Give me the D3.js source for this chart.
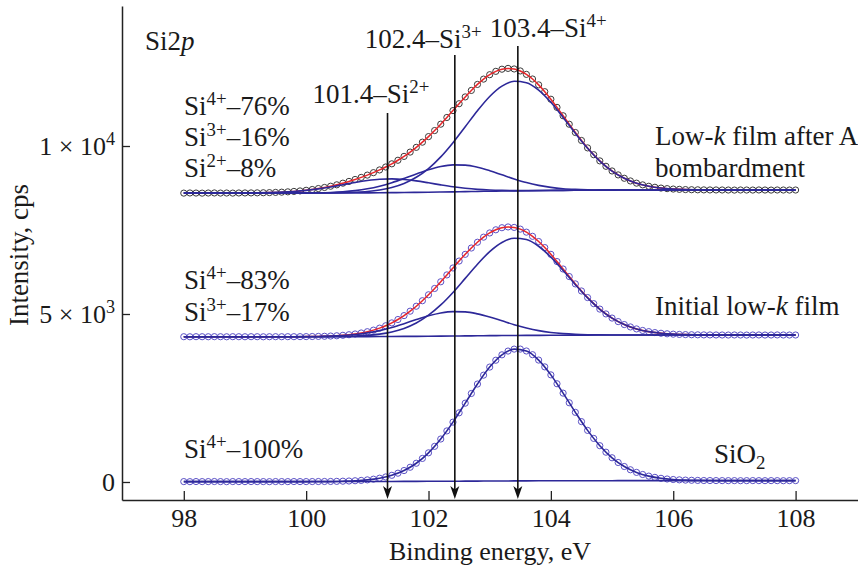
<!DOCTYPE html>
<html>
<head>
<meta charset="utf-8">
<script src="https://cdn.jsdelivr.net/npm/d3@7"></script>
<style>
  body { margin: 0; background: #fff; }
  text { font-family: "Liberation Serif", "Times New Roman", serif; fill: #1a1a1a; }
</style>
</head>
<body>
<svg id="chart" width="858" height="569"></svg>
<script>
// measured points every 0.1 eV, fitted curves every 0.2 eV
var energy = d3.range(980, 1081).map(function (d) { return d / 10; });
var fitEnergy = d3.range(490, 541).map(function (d) { return d / 5; });

// Low-k film after Ar bombardment
var arIntensity = [
  8598, 8602, 8600, 8597, 8601, 8603, 8599, 8601, 8598, 8602,
  8603, 8604, 8606, 8609, 8613, 8619, 8626, 8636, 8648, 8663,
  8682, 8705, 8734, 8766, 8803, 8845, 8894, 8946, 9004, 9066,
  9134, 9207, 9288, 9375, 9470, 9576, 9691, 9819, 9960, 10114,
  10280, 10460, 10650, 10849, 11054, 11259, 11461, 11654, 11833, 11991,
  12122, 12222, 12286, 12310, 12293, 12234, 12132, 11994, 11820, 11617,
  11392, 11150, 10900, 10648, 10402, 10165, 9944, 9741, 9557, 9396,
  9257, 9140, 9040, 8960, 8894, 8843, 8802, 8772, 8748, 8731,
  8719, 8710, 8703, 8699, 8696, 8694, 8692, 8692, 8691, 8690,
  8688, 8691, 8690, 8689, 8692, 8690, 8688, 8691, 8690, 8689, 8690
];
var arSi4 = [
  8600, 8600, 8600, 8600, 8600, 8600, 8600, 8600, 8600, 8600, 8600,
  8602, 8604, 8611, 8624, 8647, 8691, 8765, 8885, 9069, 9330,
  9677, 10100, 10573, 11051, 11475, 11783, 11928, 11885, 11664, 11300,
  10850, 10376, 9932, 9552, 9255, 9040, 8894, 8802, 8748, 8719,
  8703, 8696, 8692, 8691,
  8690, 8690, 8690, 8690, 8690, 8690
];
var arSi3 = [
  8600, 8600, 8600, 8600, 8600, 8600, 8600, 8600,
  8601, 8601, 8604, 8608, 8618, 8638, 8672, 8726, 8805, 8909,
  9034, 9169, 9294, 9391, 9439, 9431, 9369, 9266, 9143, 9020,
  8911, 8828, 8768, 8730, 8709, 8697, 8691, 8690, 8690,
  8690, 8690, 8690, 8690, 8690, 8690, 8690, 8690, 8690, 8690, 8690, 8690, 8690, 8690
];
var arSi2 = [
  8600, 8600, 8600, 8600,
  8601, 8603, 8606, 8613, 8626, 8647, 8679, 8724, 8781, 8848,
  8916, 8973, 9011, 9021, 9002, 8961, 8904, 8843, 8787, 8742,
  8709, 8689, 8678, 8673, 8672, 8675, 8678, 8680, 8683, 8685,
  8686, 8688, 8689,
  8690, 8690, 8690, 8690, 8690, 8690, 8690, 8690, 8690, 8690, 8690, 8690, 8690, 8690
];
var arBackground = [
  8600, 8600, 8600, 8600, 8600, 8600, 8600, 8600, 8600, 8600, 8600, 8600, 8600,
  8602, 8604, 8606, 8609, 8612, 8615, 8620, 8624, 8630, 8636,
  8642, 8648, 8654, 8659, 8664, 8668, 8673, 8677, 8680, 8683,
  8685, 8686, 8688, 8689,
  8690, 8690, 8690, 8690, 8690, 8690, 8690, 8690, 8690, 8690, 8690, 8690, 8690, 8690
];

// Initial low-k film
var initIntensity = [
  4324, 4322, 4325, 4324, 4323, 4326, 4324, 4322, 4325, 4324,
  4323, 4325, 4324, 4322, 4324, 4325, 4324, 4325, 4325, 4326,
  4327, 4330, 4333, 4337, 4344, 4352, 4366, 4383, 4405, 4435,
  4473, 4520, 4579, 4650, 4735, 4836, 4952, 5084, 5231, 5395,
  5572, 5760, 5959, 6163, 6370, 6576, 6776, 6964, 7136, 7287,
  7412, 7506, 7568, 7591, 7577, 7526, 7436, 7312, 7157, 6977,
  6776, 6561, 6339, 6115, 5896, 5685, 5489, 5308, 5146, 5002,
  4879, 4774, 4686, 4615, 4556, 4510, 4475, 4447, 4427, 4411,
  4400, 4392, 4387, 4383, 4380, 4378, 4377, 4376, 4375, 4374,
  4376, 4375, 4373, 4375, 4376, 4374, 4375, 4377, 4375, 4374, 4375
];
var initSi4 = [
  4324, 4324, 4324, 4324, 4324, 4324, 4324, 4324, 4324, 4324, 4324,
  4325, 4327, 4333, 4343, 4364, 4401, 4466, 4572, 4733, 4964,
  5269, 5642, 6060, 6482, 6857, 7129, 7255, 7216, 7017, 6693,
  6293, 5873, 5478, 5141, 4877, 4685, 4556, 4475, 4427, 4400,
  4387, 4380, 4377, 4376,
  4375, 4375, 4375, 4375, 4375, 4375
];
var initSi3 = [
  4324, 4324, 4324, 4324, 4324, 4324, 4324, 4324, 4324,
  4325, 4327, 4332, 4340, 4358, 4388, 4437, 4506, 4600, 4713,
  4833, 4946, 5031, 5072, 5063, 5004, 4910, 4797, 4683, 4584,
  4505, 4450, 4415, 4394, 4383, 4378, 4376, 4375,
  4375, 4375, 4375, 4375, 4375, 4375, 4375, 4375, 4375, 4375, 4375, 4375, 4375, 4375
];
var initBackground = [
  4324, 4324, 4324, 4324, 4324, 4324, 4324, 4324, 4324, 4324, 4324, 4324, 4324,
  4325, 4326, 4328, 4329, 4331, 4333, 4335, 4338, 4341, 4344,
  4348, 4351, 4355, 4358, 4360, 4363, 4365, 4367, 4369, 4371,
  4372, 4373, 4374, 4374,
  4375, 4375, 4375, 4375, 4375, 4375, 4375, 4375, 4375, 4375, 4375, 4375, 4375, 4375
];

// SiO2
var sio2Intensity = [
  12, 10, 13, 11, 12, 14, 12, 10, 13, 12,
  11, 13, 12, 12, 10, 13, 12, 11, 13, 12,
  12, 13, 14, 15, 16, 19, 24, 29, 37, 47,
  63, 84, 113, 150, 199, 262, 341, 439, 558, 701,
  868, 1061, 1279, 1520, 1782, 2059, 2346, 2634, 2915, 3180,
  3420, 3624, 3785, 3897, 3955, 3956, 3899, 3789, 3629, 3426,
  3188, 2924, 2645, 2358, 2073, 1797, 1536, 1297, 1080, 887,
  721, 580, 461, 364, 286, 223, 175, 138, 110, 89,
  74, 64, 56, 51, 47, 44, 43, 42, 41, 40,
  41, 39, 40, 42, 40, 39, 41, 40, 38, 40, 41
];
var sio2Si4 = [
  12, 12, 12, 12, 12, 12, 12, 12, 12, 12, 12,
  14, 16, 24, 37, 63, 113, 199, 341, 558, 868,
  1279, 1782, 2346, 2915, 3420, 3785, 3955, 3899, 3629, 3188,
  2645, 2073, 1536, 1080, 721, 461, 286, 175, 110, 74,
  56, 47, 43, 41,
  40, 40, 40, 40, 40, 40
];
var sio2Background = [
  12, 12, 12, 12, 12, 12, 12, 12, 12, 12, 12, 12, 12,
  13, 13, 14, 15, 16, 17, 18, 20, 21, 23,
  25, 27, 29, 30, 32, 33, 35, 36, 37, 38,
  38, 39, 39, 40,
  40, 40, 40, 40, 40, 40, 40, 40, 40, 40, 40, 40, 40, 40
];

// peak markers
var peakEnergies = [101.33, 102.43, 103.46];
var peakNames = ["101.4–Si", "102.4–Si", "103.4–Si"];
var peakCharges = ["2+", "3+", "4+"];
var arrowTops = [10980, 12710, 12975];

// compositions
var arCharges = ["4+", "3+", "2+"];
var arShares = [76, 16, 8];
var initCharges = ["4+", "3+"];
var initShares = [83, 17];
var sio2Charges = ["4+"];
var sio2Shares = [100];

var xTicks = [98, 100, 102, 104, 106, 108];
var yTicks = [0, 5000, 10000];
var yTickMant = ["0", "5 × 10", "1 × 10"];
var yTickExp = ["", "3", "4"];

var width = 858, height = 569;
var FONT = 27;
var TICK_FONT = 26;
var LINE_BLUE = "#2d2899";
var DOT_BLUE = "#5a50c6";
var DOT_DARK = "#3a3a3a";
var FIT_RED = "#e8262a";

var svg = d3.select("#chart");

var x = d3.scaleLinear().domain([96.99, 109.02]).range([122, 858]);
var y = d3.scaleLinear().domain([-536, 14167]).range([500, 6]);

function richText(sel, px, py, parts, anchor) {
  var t = sel.append("text")
    .attr("x", px)
    .attr("y", py)
    .attr("font-size", FONT)
    .attr("text-anchor", anchor || "start");
  var shift = 0;
  parts.forEach(function (p) {
    var s = t.append("tspan").text(p.t);
    var target = 0;
    if (p.sup) { s.attr("font-size", FONT * 0.7); target = -10; }
    if (p.sub) { s.attr("font-size", FONT * 0.7); target = 6; }
    if (p.it) s.attr("font-style", "italic");
    if (target !== shift) { s.attr("dy", target - shift); shift = target; }
  });
  return t;
}

// spectra table built from the arrays above
var spectra = [
  { values: arIntensity, comps: [arBackground, arSi2, arSi3, arSi4], dot: DOT_DARK, envelope: true },
  { values: initIntensity, comps: [initBackground, initSi3, initSi4], dot: DOT_BLUE, envelope: true },
  { values: sio2Intensity, comps: [sio2Background, sio2Si4], dot: DOT_BLUE, envelope: false }
];

var fitLine = d3.line()
  .x(function (d) { return x(d[0]); })
  .y(function (d) { return y(d[1]); })
  .curve(d3.curveMonotoneX);

var plot = svg.append("g").attr("class", "plot");

spectra.forEach(function (s) {
  var g = plot.append("g");
  g.selectAll("circle")
    .data(s.values)
    .enter()
    .append("circle")
    .attr("cx", function (d, i) { return x(energy[i]); })
    .attr("cy", function (d) { return y(d); })
    .attr("r", 3.1)
    .attr("fill", "none")
    .attr("stroke", s.dot)
    .attr("stroke-width", 1);

  if (s.envelope) {
    g.append("path")
      .datum(s.values.map(function (d, i) { return [energy[i], d]; }))
      .attr("d", fitLine)
      .attr("fill", "none")
      .attr("stroke", FIT_RED)
      .attr("stroke-width", 1.5);
  }

  s.comps.forEach(function (c) {
    g.append("path")
      .datum(c.map(function (d, i) { return [fitEnergy[i], d]; }))
      .attr("d", fitLine)
      .attr("fill", "none")
      .attr("stroke", LINE_BLUE)
      .attr("stroke-width", 1.6);
  });
});

// axes
var xAxis = d3.axisBottom(x)
  .tickValues(xTicks)
  .tickSizeInner(-9)
  .tickSizeOuter(0)
  .tickPadding(9)
  .tickFormat(d3.format("d"));

var gx = svg.append("g")
  .attr("transform", "translate(0," + y.range()[0] + ")")
  .call(xAxis);

var yAxis = d3.axisLeft(y)
  .tickValues(yTicks)
  .tickSizeInner(-8)
  .tickSizeOuter(0)
  .tickPadding(7)
  .tickFormat(function (d, i) { return yTickMant[i]; });

var gy = svg.append("g")
  .attr("transform", "translate(" + x.range()[0] + ",0)")
  .call(yAxis);

[gx, gy].forEach(function (g) {
  g.select(".domain").attr("stroke", "#222").attr("stroke-width", 1.5);
  g.selectAll(".tick line").attr("stroke", "#222").attr("stroke-width", 1.3);
  g.selectAll(".tick text")
    .attr("font-family", '"Liberation Serif", "Times New Roman", serif')
    .attr("font-size", TICK_FONT)
    .attr("fill", "#1a1a1a");
});

gy.selectAll(".tick text").each(function (d, i) {
  if (yTickExp[i]) {
    d3.select(this).append("tspan")
      .attr("dy", -10)
      .attr("font-size", TICK_FONT * 0.7)
      .text(yTickExp[i]);
  }
});

svg.append("text")
  .attr("transform", "translate(28,255) rotate(-90)")
  .attr("text-anchor", "middle")
  .attr("font-size", FONT)
  .text("Intensity, cps");

svg.append("text")
  .attr("x", 490)
  .attr("y", 560)
  .attr("text-anchor", "middle")
  .attr("font-size", TICK_FONT)
  .text("Binding energy, eV");

// arrows marking peak positions
var labelDx = [-75, -90, -28];
var labelY = [103, 48, 37];
var arrows = svg.append("g");
peakEnergies.forEach(function (e, i) {
  var px = x(e);
  var yb = y.range()[0] - 1;
  arrows.append("line")
    .attr("x1", px).attr("x2", px)
    .attr("y1", y(arrowTops[i])).attr("y2", yb - 6)
    .attr("stroke", "#111")
    .attr("stroke-width", 1.6);
  arrows.append("path")
    .attr("d", "M" + px + "," + yb + " l-4.5,-13 l4.5,3.5 l4.5,-3.5 z")
    .attr("fill", "#111");
  richText(arrows, px + labelDx[i], labelY[i], [
    { t: peakNames[i] },
    { t: peakCharges[i], sup: true }
  ]);
});

// annotations
var notes = svg.append("g");
richText(notes, 145, 50, [{ t: "Si2" }, { t: "p", it: true }]);

function compText(charges, shares, y0, step) {
  charges.forEach(function (c, i) {
    richText(notes, 184, y0 + i * step, [
      { t: "Si" }, { t: c, sup: true }, { t: "–" + shares[i] + "%" }
    ]);
  });
}
compText(arCharges, arShares, 115, 31);
compText(initCharges, initShares, 289, 32);
compText(sio2Charges, sio2Shares, 458, 0);

richText(notes, 655, 145, [{ t: "Low-" }, { t: "k", it: true }, { t: " film after Ar" }]);
richText(notes, 655, 177, [{ t: "bombardment" }]);
richText(notes, 655, 315, [{ t: "Initial low-" }, { t: "k", it: true }, { t: " film" }]);
richText(notes, 714, 463, [{ t: "SiO" }, { t: "2", sub: true }]);
</script>
</body>
</html>
